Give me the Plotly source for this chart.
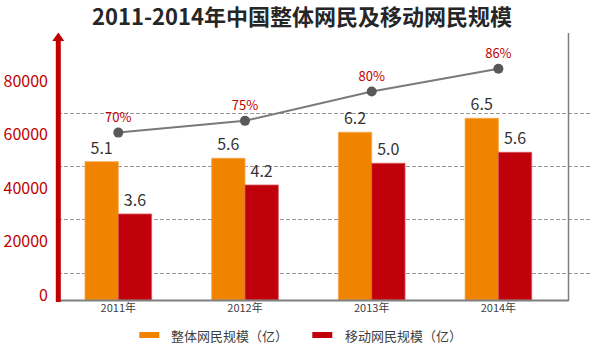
import plotly.graph_objects as go

# ---- data ----
years = ["2011年", "2012年", "2013年", "2014年"]
overall_values = [51800, 53070, 62810, 68050]          # 整体网民规模 (bar heights, axis units)
overall_labels = ["5.1", "5.6", "6.2", "6.5"]           # 亿
mobile_values = [32210, 43070, 51200, 55320]           # 移动网民规模
mobile_labels = ["3.6", "4.2", "5.0", "5.6"]
ratio_values = [62700, 67100, 78100, 86600]             # line position
ratio_labels = ["70%", "75%", "80%", "86%"]
y_tick_vals = [0, 20000, 40000, 60000, 80000]
y_tick_text = ["0", "20000", "40000", "60000", "80000"]
grid_vals = [10000, 30000, 50000, 70000]
legend_names = ["整体网民规模（亿）", "移动网民规模（亿）"]
title_text = "2011-2014年中国整体网民及移动网民规模"

ORANGE = "#f08300"
RED = "#c0000b"
FONT = "Noto Sans CJK SC"

# plot area in pixels
L, R, T, B = 58, 590, 33, 300
W, H = 595, 349


def px(x):
    return (x - L) / (R - L)


def py(y):
    return (B - y) / (B - T)


fig = go.Figure()
fig.add_trace(go.Bar(
    x=years, y=overall_values, name=legend_names[0],
    marker=dict(color=ORANGE, line=dict(color="#f6a64a", width=0.8)),
    text=overall_labels, textposition="outside",
    textfont=dict(size=16, color="#333333", family=FONT),
    cliponaxis=False, showlegend=False,
))
fig.add_trace(go.Bar(
    x=years, y=mobile_values, name=legend_names[1],
    marker=dict(color=RED, line=dict(color="#d9555c", width=0.8)),
    text=mobile_labels, textposition="outside",
    textfont=dict(size=16, color="#333333", family=FONT),
    cliponaxis=False, showlegend=False,
))
fig.add_trace(go.Scatter(
    x=years, y=ratio_values, mode="lines+markers+text",
    text=ratio_labels, textposition="top center",
    textfont=dict(size=13, color="#c00000", family=FONT),
    line=dict(color="#7a7a7a", width=2),
    marker=dict(size=10, color="#595959"),
    cliponaxis=False, showlegend=False,
))

shapes = [
    # baseline
    dict(type="line", xref="paper", yref="paper", x0=0, x1=px(568.5), y0=py(300.5), y1=py(300.5),
         line=dict(color="#7f7f7f", width=2)),
    # right border
    dict(type="line", xref="paper", yref="paper", x0=px(568.5), x1=px(568.5), y0=py(301), y1=1,
         line=dict(color="#7f7f7f", width=1.5)),
    # red arrow axis
    dict(type="line", xref="paper", yref="paper", x0=px(58.3), x1=px(58.3), y0=py(302), y1=py(40),
         line=dict(color="#c00000", width=5)),
    dict(type="path", xref="paper", yref="paper",
         path=f"M {px(52.3)},{py(41)} L {px(64.3)},{py(41)} L {px(58.3)},{py(32.5)} Z",
         fillcolor="#c00000", line=dict(width=0)),
    # legend swatches
    dict(type="rect", xref="paper", yref="paper", x0=px(139.3), x1=px(159.3), y0=py(338), y1=py(332),
         fillcolor=ORANGE, line=dict(width=0)),
    dict(type="rect", xref="paper", yref="paper", x0=px(312.3), x1=px(332.3), y0=py(338), y1=py(332),
         fillcolor=RED, line=dict(width=0)),
]

annotations = [
    dict(xref="paper", yref="paper", x=px(302), y=py(15), text=f"<b>{title_text}</b>", showarrow=False,
         xanchor="center", yanchor="middle", borderpad=0,
         font=dict(size=22, color="#262626", family=FONT)),
    dict(xref="paper", yref="paper", x=px(169), y=py(335), text=legend_names[0], showarrow=False,
         xanchor="left", yanchor="middle", font=dict(size=13, color="#404040", family=FONT)),
    dict(xref="paper", yref="paper", x=px(342.5), y=py(335), text=legend_names[1], showarrow=False,
         xanchor="left", yanchor="middle", font=dict(size=13, color="#404040", family=FONT)),
]

fig.update_layout(
    width=W, height=H,
    margin=dict(l=L, r=W - R, t=T, b=H - B, pad=0),
    paper_bgcolor="white", plot_bgcolor="white",
    barmode="group", bargap=0.474, bargroupgap=0,
    font=dict(family=FONT),
    xaxis=dict(type="category", range=[-0.476, 3.723], showgrid=False, showline=False,
               zeroline=False, ticks="", tickfont=dict(size=11, color="#404040", family=FONT)),
    yaxis=dict(range=[0, 100000], tickmode="array", tickvals=y_tick_vals, ticktext=y_tick_text,
               showgrid=False, zeroline=False, showline=False, ticks="",
               ticklabelshift=-5, ticklabelstandoff=9,
               tickfont=dict(size=16, color="#c00000", family=FONT),
               minor=dict(tickmode="array", tickvals=grid_vals, showgrid=True,
                          gridcolor="#9a9a9a", gridwidth=1, griddash="4px,2px", ticks="")),
    shapes=shapes, annotations=annotations,
)

fig.write_html("out.html")
